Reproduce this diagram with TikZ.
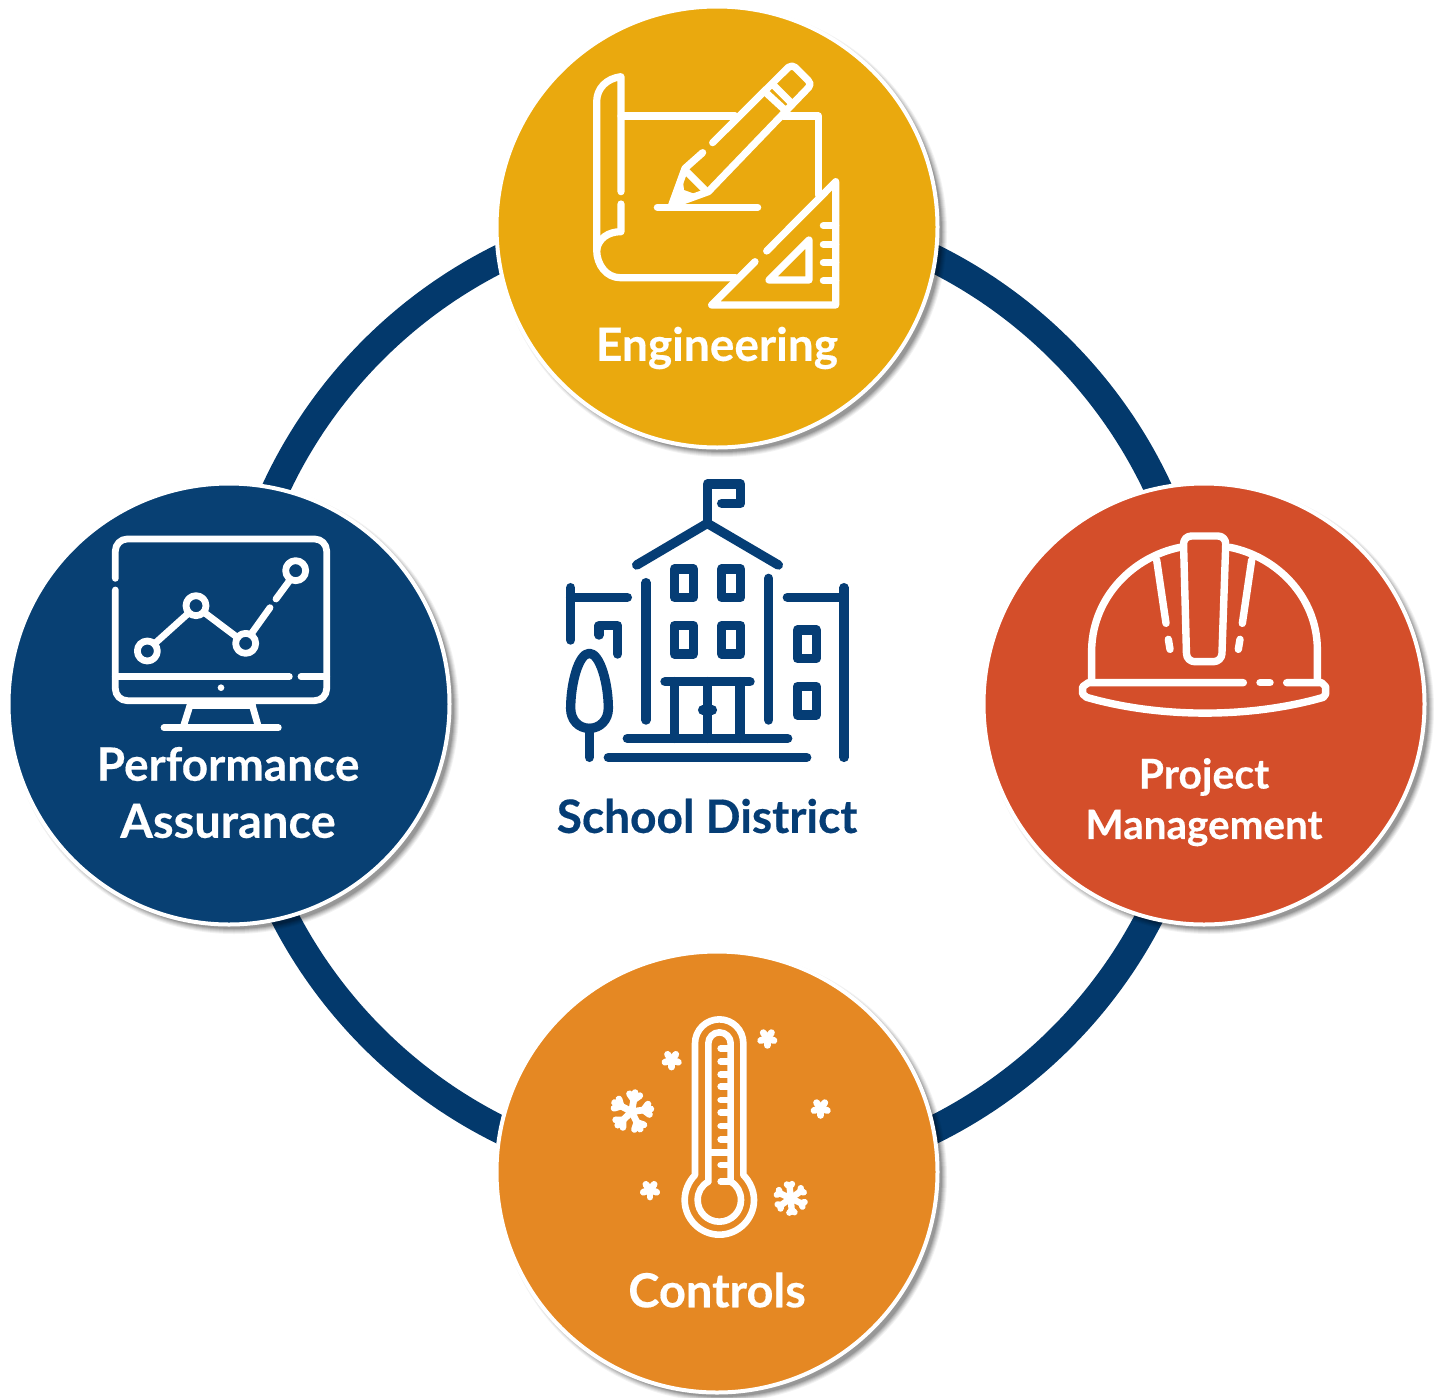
\documentclass[tikz,border=0pt]{standalone}
\usepackage{fontspec}
\setmainfont[BoldFeatures={FakeBold=0.35}]{Lato}
\definecolor{navy}{HTML}{03396C}
\definecolor{bluehub}{HTML}{084073}
\definecolor{goldhub}{HTML}{EAA90E}
\definecolor{redhub}{HTML}{D44E2A}
\definecolor{orangehub}{HTML}{E58823}
\definecolor{iconnavy}{HTML}{053D75}
\tikzset{
  hub/.style={circle,draw=white,line width=2pt,minimum size=220.5pt,inner sep=0pt},
  ringline/.style={circle,draw=navy,line width=14pt,minimum size=486.5pt,inner sep=0pt},
  zoomed/.style={x=0.166667pt,y=-0.166667pt},
  icon/.style={draw=white,line cap=round,line join=round},
  hublabel/.style={text=white,font=\bfseries,inner sep=0pt,align=center},
}
\newcommand{\hubshadow}[2]{%
  \foreach \rr/\oo in {225/.05,224/.06,223/.07,222/.08,221/.10,220/.12}{
    \fill[black,opacity=\oo] (#1+5,#2+5) circle[radius=\rr];
  }}
\begin{document}
\begin{tikzpicture}[x=0.5pt,y=-0.5pt]
\useasboundingbox (0,0) rectangle (1434,1397);
\fill[white] (0,0) rectangle (1434,1397);
\node[ringline] (ring) at (717,694) {};
\hubshadow{717}{227}
\hubshadow{1204}{704}
\hubshadow{717}{1172}
\hubshadow{229}{704}
\node[hub,fill=goldhub] (eng) at (717,227) {};
\node[hub,fill=redhub] (pm) at (1204,704) {};
\node[hub,fill=orangehub] (ctl) at (717,1172) {};
\node[hub,fill=bluehub] (pa) at (229,704) {};

% engineering icon
\begin{scope}[zoomed,shift={(285pt,-25pt)},icon,line width=3.6pt]
  \draw (153,425) -- (153,80) .. controls (110,85) and (80,115) .. (80,155) -- (80,600)
        .. controls (80,645) and (110,683) .. (150,683) -- (497,683);
  \draw (153,462) -- (153,545) .. controls (115,545) and (85,565) .. (80,600);
  \draw (153,198) -- (495,198);
  \draw (640,198) -- (745,198) -- (745,435);
  \draw (428,278) -- (655,52) .. controls (662,46) and (670,48) .. (675,52) -- (715,92)
        .. controls (722,98) and (722,106) .. (716,112) -- (415,425) -- (305,465) -- (345,355) -- (398,308);
  \draw (610,105) -- (665,160);
  \draw (590,130) -- (650,185);
  \draw (350,365) -- (405,420);
  \fill[white] (305,465) -- (338,385) -- (342,420) -- (375,432) -- cycle;
  \draw (262,472) -- (563,472);
  \draw (590,603) -- (797,395) -- (797,765) -- (425,765) -- (555,635);
  \foreach \yy in {527,583,638,692} \draw (760,\yy) -- (797,\yy);
  \draw (717,570) -- (717,690) -- (597,690) -- cycle;
\end{scope}

% school icon
\begin{scope}[zoomed,shift={(275pt,-235pt)},icon,draw=iconnavy,line width=4.7pt]
  \draw (472,155) -- (472,42) -- (572,42) -- (572,100) -- (515,100);
  \draw (260,285) -- (472,160) -- (685,285);
  \draw (288,338) -- (288,750);
  \draw (656,325) -- (656,750);
  \foreach \xa/\ya in {373/297,515/297,373/467,515/467,742/480,742/650}
    \draw (\xa,\ya) rectangle (\xa+57,\ya+85);
  \draw (62,353) -- (62,510);
  \draw (62,382) -- (232,382);
  \draw (712,382) -- (882,382);
  \draw (882,353) -- (882,862);
  \draw (147,495) -- (147,467) -- (203,467) -- (203,552);
  \draw (345,635) -- (600,635);
  \draw (373,635) -- (373,805);
  \draw (570,635) -- (570,805);
  \draw (472,635) -- (472,805);
  \draw (458,720) -- (487,720);
  \draw (232,805) -- (713,805);
  \draw (175,862) -- (770,862);
  \draw (118,550) .. controls (150,550) and (175,640) .. (175,715)
        .. controls (175,750) and (150,775) .. (118,775)
        .. controls (86,775) and (62,750) .. (62,715)
        .. controls (62,640) and (86,550) .. (118,550) -- cycle;
  \draw (118,775) -- (118,862);
\end{scope}

% helmet icon
\begin{scope}[zoomed,shift={(530pt,-260pt)},icon,line width=3.7pt]
  \draw (95,480) -- (95,385) .. controls (100,230) and (220,110) .. (360,82);
  \draw (510,82) .. controls (650,110) and (770,230) .. (772,385) -- (772,480);
  \draw[rounded corners=4pt] (370,48) -- (498,48) -- (485,425) -- (380,425) -- cycle;
  \draw (290,120) -- (318,310);
  \draw (325,358) -- (330,388);
  \draw (575,120) -- (547,310);
  \draw (540,358) -- (535,388);
  \draw (550,488) -- (85,488) -- (68,500) -- (68,522) -- (80,532)
        .. controls (300,595) and (570,595) .. (790,532) -- (797,522) -- (797,500) -- (785,488) -- (680,488);
  \draw (600,488) -- (630,488);
\end{scope}

% thermometer icon
\begin{scope}[zoomed,shift={(295pt,-505pt)},icon,line width=3.3pt]
  \draw (315,495) -- (315,100) .. controls (315,60) and (348,28) .. (388,28)
        .. controls (428,28) and (460,60) .. (460,100) -- (460,495)
        .. controls (480,515) and (492,542) .. (492,570)
        .. controls (492,627) and (445,674) .. (388,674)
        .. controls (331,674) and (284,627) .. (284,570)
        .. controls (284,542) and (296,515) .. (315,495);
  \draw (355,515) -- (355,100) .. controls (355,82) and (370,67) .. (388,67)
        .. controls (407,67) and (422,82) .. (422,100) -- (422,515)
        .. controls (442,526) and (453,547) .. (453,570)
        .. controls (453,606) and (424,635) .. (388,635)
        .. controls (352,635) and (323,606) .. (323,570)
        .. controls (323,547) and (334,526) .. (355,515);
  \foreach \yy in {115,155,193,230,270,308,348,388,465,515} \draw (392,\yy) -- (420,\yy);
  \draw (358,428) -- (420,428);
  \foreach \cx/\cy in {245/150,532/85,692/295,180/540}
    \foreach \aa in {18,90,162,234,306}
      \draw[line width=3.4pt] (\cx,\cy) -- ++(\aa:21);
  \begin{scope}[shift={(125,305)},line width=3.4pt]
    \foreach \aa in {-80,-8,64,136,208}{
      \draw (0,0) -- (\aa:58);
      \draw (\aa:36) -- ++(\aa+45:22);
      \draw (\aa:36) -- ++(\aa-45:22);
    }
  \end{scope}
  \begin{scope}[shift={(602,565)},line width=3.2pt]
    \foreach \aa in {25,85,145,205,265,325}{
      \draw (\aa:14) -- (\aa:34);
      \draw (\aa:36) -- ++(\aa+50:10);
      \draw (\aa:36) -- ++(\aa-50:10);
    }
    \fill[white] (0,0) circle[radius=14];
  \end{scope}
\end{scope}

% monitor icon
\begin{scope}[zoomed,shift={(50pt,-262.5pt)},icon,line width=3.4pt]
  \draw[rounded corners=6pt] (46,160) -- (46,42) -- (680,42) -- (680,527) -- (46,527) -- (46,195);
  \draw (46,455) -- (568,455);
  \draw (603,455) -- (680,455);
  \fill[white] (363,488) circle[radius=10];
  \draw (272,535) -- (250,605);
  \draw (455,535) -- (475,605);
  \draw (270,542) -- (458,542);
  \draw (192,608) -- (535,608);
  \draw (142,378) circle[radius=30];
  \draw (288,242) circle[radius=30];
  \draw (437,355) circle[radius=30];
  \draw (587,137) circle[radius=30];
  \draw (165,355) -- (265,265);
  \draw (312,262) -- (413,338);
  \draw (455,325) -- (510,248);
  \draw (528,222) -- (570,165);
\end{scope}

\node[hublabel,font=\fontsize{23}{26}\selectfont\bfseries] (engt) at (717,348) {Engineering};
\node[hublabel,font=\fontsize{23}{26}\selectfont\bfseries] (pat1) at (228,764) {Performance};
\node[hublabel,font=\fontsize{23.5}{26}\selectfont\bfseries] (pat2) at (228,821) {Assurance};
\node[hublabel,font=\fontsize{20.5}{24}\selectfont\bfseries] (pmt1) at (1204,777) {Project};
\node[hublabel,font=\fontsize{20.2}{24}\selectfont\bfseries] (pmt2) at (1204,828) {Management};
\node[hublabel,font=\fontsize{23.5}{26}\selectfont\bfseries] (ctlt) at (717,1290) {Controls};
\node[hublabel,text=iconnavy,font=\fontsize{23}{26}\selectfont\bfseries] (sch) at (707,816) {School District};
\end{tikzpicture}
\end{document}
